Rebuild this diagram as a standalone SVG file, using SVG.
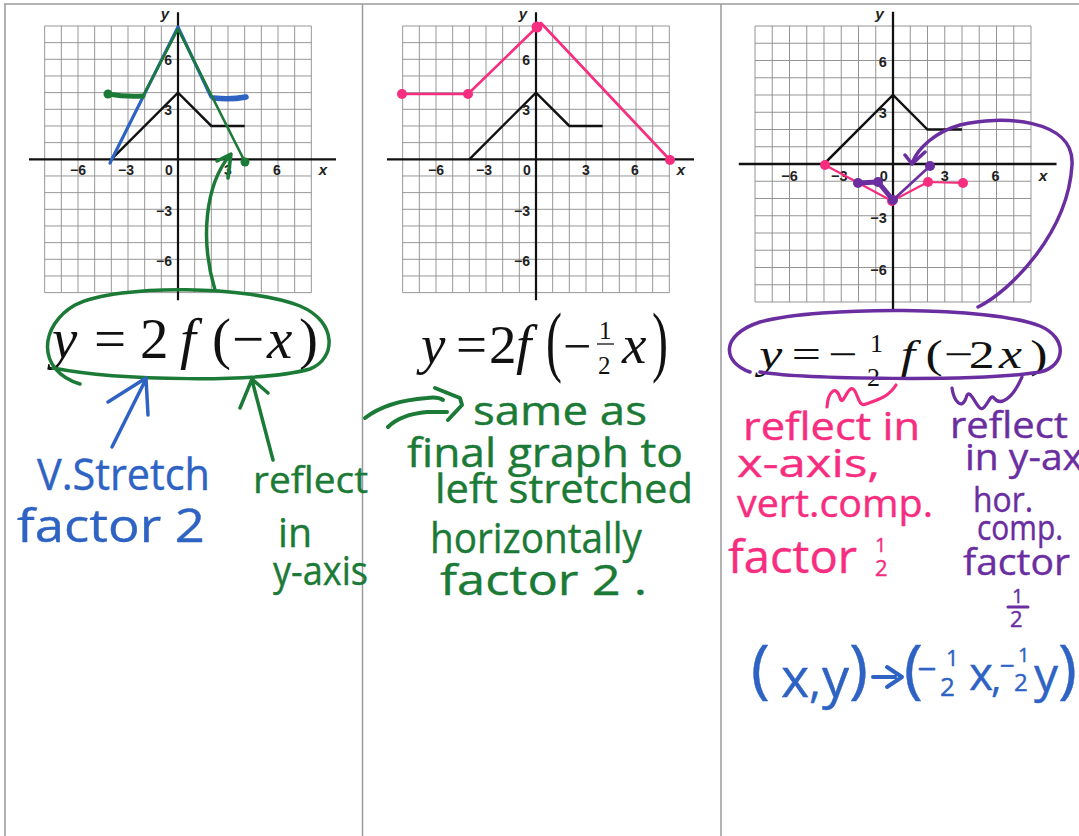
<svg xmlns="http://www.w3.org/2000/svg" width="1079" height="836" viewBox="0 0 1079 836">
<style>
.border{stroke:#9a9a9a;stroke-width:1.5;fill:none}
.grid{stroke:#8c8c8c;stroke-width:0.9;fill:none}
.axis{stroke:#111;stroke-width:2.2;fill:none}
.f{stroke:#111;stroke-width:2.4;fill:none;stroke-linejoin:miter}
.tick{font-family:"Liberation Sans",Arial,sans-serif;font-weight:bold;font-size:14px;fill:#222}
.axl{font-family:"Liberation Sans",Arial,sans-serif;font-weight:bold;font-style:italic;font-size:15px;fill:#222}
.eq{font-family:"Liberation Serif","Times New Roman",serif;fill:#111}
.it{font-style:italic}
.hw{font-family:"Open Sans","Noto Sans",sans-serif;stroke-width:0.4;stroke-linejoin:round}
.blue{fill:#2e63c4;stroke:#2e63c4}
.green{fill:#1b7a36;stroke:#1b7a36}
.pink{fill:#f72d7f;stroke:#f72d7f}
.purple{fill:#6a2ea0;stroke:#6a2ea0}
.sb{stroke:#2e63c4;fill:none;stroke-linecap:round;stroke-linejoin:round}
.sg{stroke:#1b7a36;fill:none;stroke-linecap:round;stroke-linejoin:round}
.sp{stroke:#f72d7f;fill:none;stroke-linecap:round;stroke-linejoin:round}
.su{stroke:#6a2ea0;fill:none;stroke-linecap:round;stroke-linejoin:round}
</style>
<defs>
<g id="graph">
<path class="grid" d="M-133.33,-133.33V133.33M-116.67,-133.33V133.33M-100,-133.33V133.33M-83.33,-133.33V133.33M-66.67,-133.33V133.33M-50,-133.33V133.33M-33.33,-133.33V133.33M-16.67,-133.33V133.33M16.67,-133.33V133.33M33.33,-133.33V133.33M50,-133.33V133.33M66.67,-133.33V133.33M83.33,-133.33V133.33M100,-133.33V133.33M116.67,-133.33V133.33M133.33,-133.33V133.33M-133.33,-133.33H133.33M-133.33,-116.67H133.33M-133.33,-100H133.33M-133.33,-83.33H133.33M-133.33,-66.67H133.33M-133.33,-50H133.33M-133.33,-33.33H133.33M-133.33,-16.67H133.33M-133.33,16.67H133.33M-133.33,33.33H133.33M-133.33,50H133.33M-133.33,66.67H133.33M-133.33,83.33H133.33M-133.33,100H133.33M-133.33,116.67H133.33M-133.33,133.33H133.33"/>
<path class="axis" d="M-149,0H158M0,-147V141"/>
<path class="f" d="M-66.67,0L0,-66.67L33.33,-33.33H66.67"/>
<text class="tick" x="-100" y="16" text-anchor="middle">−6</text>
<text class="tick" x="-52" y="16" text-anchor="middle">−3</text>
<text class="tick" x="-9" y="16" text-anchor="middle">0</text>
<text class="tick" x="50" y="16" text-anchor="middle">3</text>
<text class="tick" x="99" y="16" text-anchor="middle">6</text>
<text class="axl" x="145" y="16" text-anchor="middle">x</text>
<text class="tick" x="-6" y="-94" text-anchor="end">6</text>
<text class="tick" x="-6" y="-44" text-anchor="end">3</text>
<text class="tick" x="-6" y="57" text-anchor="end">−3</text>
<text class="tick" x="-6" y="107" text-anchor="end">−6</text>
<text class="axl" x="-13" y="-140" text-anchor="middle">y</text>
</g>
</defs>

<g id="borders">
<path class="border" d="M4,4H1079M5,4V836M362.5,4V836M721,4V836"/>
</g>

<!-- Panel 1 -->
<g id="graph1">
<use href="#graph" transform="translate(178,159.3)"/>
</g>
<g id="panel1-overlay">
<path class="sb" stroke-width="3.2" d="M110,163L178,27L211,97"/>
<path class="sb" stroke-width="5.5" d="M214,98Q230,100 246,97"/>
<path class="sg" stroke-width="2.6" d="M143,96L178,29L245,162"/>
<path class="sg" stroke-width="5" d="M108,94Q125,97 143,96"/>
<circle cx="108" cy="94" r="4.5" fill="#1b7a36"/>
<circle cx="245" cy="162" r="4.5" fill="#1b7a36"/>
</g>
<g id="eq1">
<text class="eq" y="358" font-size="57"><tspan x="52" class="it">y</tspan><tspan x="94">=</tspan><tspan x="140">2</tspan><tspan x="180" class="it">f</tspan><tspan x="212">(</tspan><tspan x="232">−</tspan><tspan x="267" class="it">x</tspan><tspan x="299">)</tspan></text>
</g>
<g id="labels1">
<text class="hw blue" x="37" y="490" font-size="44" textLength="173" lengthAdjust="spacingAndGlyphs">V.Stretch</text>
<text class="hw blue" x="17" y="542" font-size="46" textLength="188" lengthAdjust="spacingAndGlyphs">factor 2</text>
<text class="hw green" x="253" y="493" font-size="36" textLength="115" lengthAdjust="spacingAndGlyphs">reflect</text>
<text class="hw green" x="278" y="547" font-size="40" textLength="34" lengthAdjust="spacingAndGlyphs">in</text>
<text class="hw green" x="273" y="585" font-size="40" textLength="95" lengthAdjust="spacingAndGlyphs">y-axis</text>
</g>

<!-- Panel 2 -->
<g id="graph2">
<use href="#graph" transform="translate(536,159.3)"/>
</g>
<g id="panel2-overlay">
<path class="sp" stroke-width="2.6" d="M402,94H468L537,27L541,23L670,160"/>
<circle cx="402" cy="94" r="5" fill="#f72d7f"/>
<circle cx="468" cy="94" r="5" fill="#f72d7f"/>
<circle cx="537" cy="27" r="5.5" fill="#f72d7f"/>
<circle cx="670" cy="160" r="5" fill="#f72d7f"/>
</g>
<g id="eq2">
<text class="eq" y="363" font-size="55"><tspan x="421" class="it">y</tspan><tspan x="456">=</tspan><tspan x="489">2</tspan><tspan x="516" class="it">f</tspan></text>
<text class="eq" transform="translate(546,367) scale(0.8,1.3)" font-size="60">(</text>
<text class="eq" x="563" y="363" font-size="50">−</text>
<text class="eq" x="599" y="339" font-size="25">1</text>
<path d="M597,344H614" stroke="#111" stroke-width="1.3"/>
<text class="eq" x="598" y="374" font-size="25">2</text>
<text class="eq it" x="622" y="363" font-size="55">x</text>
<text class="eq" transform="translate(652,367) scale(0.8,1.3)" font-size="60">)</text>
</g>
<g id="labels2">
<text class="hw green" x="473" y="425" font-size="40" textLength="174" lengthAdjust="spacingAndGlyphs">same as</text>
<text class="hw green" x="407" y="467" font-size="40" textLength="276" lengthAdjust="spacingAndGlyphs">final graph to</text>
<text class="hw green" x="435" y="503" font-size="40" textLength="258" lengthAdjust="spacingAndGlyphs">left stretched</text>
<text class="hw green" x="430" y="553" font-size="42" textLength="212" lengthAdjust="spacingAndGlyphs">horizontally</text>
<text class="hw green" x="440" y="595" font-size="42" textLength="207" lengthAdjust="spacingAndGlyphs">factor 2 .</text>
</g>

<!-- Panel 3 -->
<g id="graph3">
<use href="#graph" transform="translate(893,164) scale(1.035)"/>
</g>
<g id="panel3-overlay">
<path class="sp" stroke-width="2.2" d="M825,165L892,201L928,182L963,183"/>
<circle cx="825" cy="165" r="5" fill="#f72d7f"/>
<circle cx="892" cy="201" r="5" fill="#f72d7f"/>
<circle cx="928" cy="182" r="5" fill="#f72d7f"/>
<circle cx="963" cy="183" r="5" fill="#f72d7f"/>
<path class="su" stroke-width="2.6" d="M893,200L930,166"/>
<path class="su" stroke-width="5" d="M858,183L878,182L893,200"/>
<circle cx="858" cy="183" r="5" fill="#6a2ea0"/>
<circle cx="878" cy="182" r="5" fill="#6a2ea0"/>
<circle cx="893" cy="200" r="5" fill="#6a2ea0"/>
<circle cx="930" cy="166" r="5" fill="#6a2ea0"/>
</g>
<g id="eq3">
<g transform="translate(0,368) scale(1.08,0.85)">
<text class="eq" y="0" font-size="48"><tspan x="703" class="it">y</tspan><tspan x="733">=</tspan><tspan x="767">−</tspan><tspan x="834" class="it">f</tspan><tspan x="857">(</tspan><tspan x="874">−</tspan><tspan x="897">2</tspan><tspan x="925" class="it">x</tspan><tspan x="954">)</tspan></text>
</g>
<text class="eq" x="870" y="352" font-size="26">1</text>
<text class="eq" x="867" y="386" font-size="26">2</text>
</g>
<g id="labels3">
<text class="hw pink" x="743" y="440" font-size="38" textLength="177" lengthAdjust="spacingAndGlyphs">reflect in</text>
<text class="hw pink" x="737" y="477" font-size="38" textLength="143" lengthAdjust="spacingAndGlyphs">x-axis,</text>
<text class="hw pink" x="737" y="517" font-size="38" textLength="196" lengthAdjust="spacingAndGlyphs">vert.comp.</text>
<text class="hw pink" x="728" y="573" font-size="46" textLength="129" lengthAdjust="spacingAndGlyphs">factor</text>
<text class="hw pink" x="875" y="552" font-size="20">1</text>
<text class="hw pink" x="875" y="576" font-size="22">2</text>
<text class="hw purple" x="950" y="438" font-size="36" textLength="118" lengthAdjust="spacingAndGlyphs">reflect</text>
<text class="hw purple" x="965" y="470" font-size="36" textLength="118" lengthAdjust="spacingAndGlyphs">in y-ax</text>
<text class="hw purple" x="973" y="512" font-size="34" textLength="60" lengthAdjust="spacingAndGlyphs">hor.</text>
<text class="hw purple" x="977" y="540" font-size="34" textLength="86" lengthAdjust="spacingAndGlyphs">comp.</text>
<text class="hw purple" x="963" y="575" font-size="36" textLength="107" lengthAdjust="spacingAndGlyphs">factor</text>
<text class="hw purple" x="1012" y="603" font-size="20">1</text>
<path class="su" stroke-width="3" d="M1008,607H1028"/>
<text class="hw purple" x="1010" y="627" font-size="22">2</text>
<text class="hw blue" x="751" y="691" font-size="64">(</text>
<text class="hw blue" x="781" y="697" font-size="54">x</text>
<text class="hw blue" x="809" y="697" font-size="46">,</text>
<text class="hw blue" x="822" y="697" font-size="54">y</text>
<text class="hw blue" x="849" y="691" font-size="64">)</text>
<text class="hw blue" x="904" y="691" font-size="64">(</text>
<text class="hw blue" x="917" y="681" font-size="34">−</text>
<text class="hw blue" x="946" y="666" font-size="22">1</text>
<text class="hw blue" x="940" y="696" font-size="26">2</text>
<text class="hw blue" x="969" y="690" font-size="46">x</text>
<text class="hw blue" x="991" y="692" font-size="40">,</text>
<text class="hw blue" x="1000" y="675" font-size="26">−</text>
<text class="hw blue" x="1018" y="662" font-size="20">1</text>
<text class="hw blue" x="1014" y="691" font-size="24">2</text>
<text class="hw blue" x="1034" y="692" font-size="48">y</text>
<text class="hw blue" x="1058" y="691" font-size="64">)</text>
</g>

<g id="connectors">
<!-- panel 1 -->
<path class="sg" stroke-width="3.5" d="M53,368C120,381 260,383 310,369C336,359 338,322 300,306C250,286 120,283 75,305C40,325 35,370 80,384"/>
<path class="sg" stroke-width="3.5" d="M215,290C200,240 205,185 230,155M217,161L231,154L228,178"/>
<path class="sb" stroke-width="3.5" d="M112,447L146,379M108,402L146,378L148,415"/>
<path class="sg" stroke-width="3.5" d="M273,460L252,380M240,408L252,379L268,393"/>
<!-- panel 2 -->
<path class="sg" stroke-width="4" d="M365,418C378,408 400,400 427,398C435,397 440,398 443,400M388,427C395,420 405,414 427,412L447,412M435,388L460,398L462,405L448,420"/>
<!-- panel 3 -->
<path class="su" stroke-width="3.5" d="M760,372C800,379 980,382 1040,372C1066,366 1068,338 1040,326C990,306 820,306 760,322C720,335 722,362 750,372"/>
<path class="su" stroke-width="3.5" d="M978,307C1012,290 1068,232 1072,165C1075,118 1000,115 960,125C935,132 918,148 912,163M905,155L912,164L925,152"/>
<path class="sp" stroke-width="3.2" d="M827,407C828,392 836,384 840,398C843,408 847,386 853,389C858,392 858,408 866,404C876,400 888,398 896,385"/>
<path class="su" stroke-width="3.2" d="M952,388C954,402 962,410 966,398C969,386 975,404 980,408C986,412 990,392 994,398C1000,406 1012,400 1022,377"/>
<path class="sb" stroke-width="4" d="M873,677H895M887,667L902,677L887,687"/>
</g>
</svg>
